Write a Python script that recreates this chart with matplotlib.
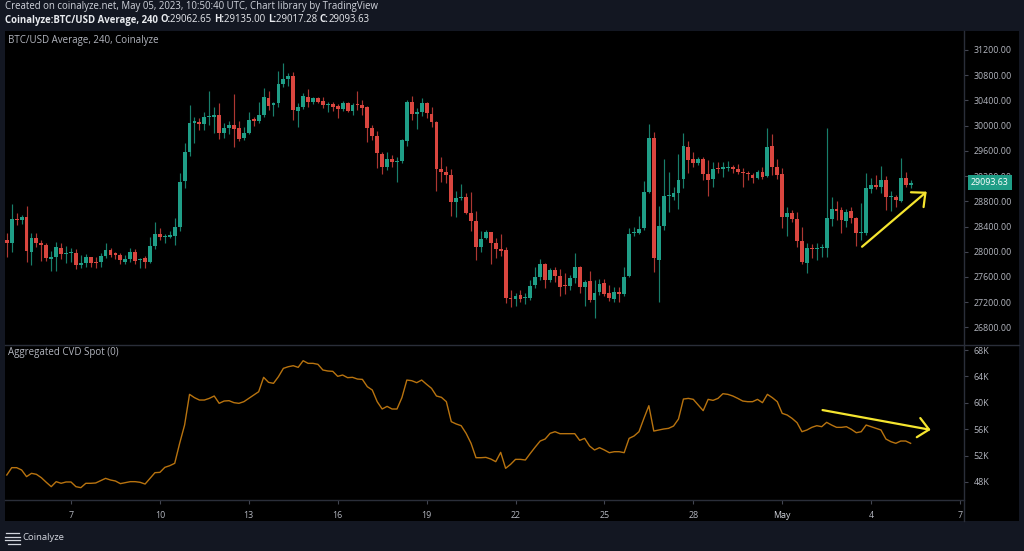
import numpy as np
import pandas as pd
import matplotlib
matplotlib.use("Agg")
import matplotlib.pyplot as plt
import matplotlib.dates as mdates
from matplotlib.lines import Line2D
from matplotlib.patches import Rectangle
from matplotlib.transforms import blended_transform_factory

plt.rcParams['font.family'] = ['Open Sans', 'DejaVu Sans']

# ---- data (4h candles, BTC/USD average) ----
START = "2023-04-04 20:00"

opens = [28186, 28144, 28524, 28503, 28546, 28001, 28223, 28144, 28107, 27885,
         27922, 28054, 27959, 27975, 27975, 27795, 27816, 27911, 27832, 27832,
         27937, 28027, 27975, 27953, 27842, 27879, 27990, 27869, 27895, 27837,
         28091, 28281, 28234, 28239, 28255, 28398, 29122, 29577, 30036, 30052,
         30021, 30132, 30132, 30163, 29888, 29962, 30005, 29962, 29799, 29888,
         30105, 30073, 30169, 30438, 30333, 30364, 30660, 30734, 30782, 30232,
         30296, 30454, 30375, 30433, 30386, 30333, 30348, 30306, 30258, 30354,
         30232, 30338, 30322, 30290, 29968, 29836, 29550, 29349, 29470, 29423,
         29439, 29762, 30375, 30190, 30211, 30354, 30179, 30063, 29307, 29265,
         29217, 28789, 28847, 28863, 28609, 28493, 28080, 28223, 28308, 28133,
         28043, 28027, 27271, 27255, 27314, 27261, 27271, 27472, 27605, 27805,
         27552, 27710, 27620, 27472, 27457, 27578, 27763, 27435, 27536, 27240,
         27361, 27499, 27340, 27250, 27367, 27330, 27620, 28291, 28302, 28371,
         28953, 29809, 27869, 28408, 28884, 28874, 28937, 29148, 29656, 29466,
         29402, 29471, 29233, 29148, 29333, 29307, 29333, 29349, 29317, 29270,
         29249, 29217, 29169, 29270, 29201, 29677, 29349, 29233, 28556, 28619,
         28519, 28170, 27826, 28064, 28038, 28054, 28064, 28519, 28677, 28662,
         28493, 28646, 28530, 28292, 28292, 29001, 29064, 29022, 29138, 28863,
         28863, 28810, 29164, 29062.65]
highs = [28292, 28757, 28609, 28583, 28731, 28302, 28292, 28186, 28133, 28011,
         28160, 28144, 28096, 28064, 28038, 27948, 27959, 27922, 27922, 27985,
         28133, 28064, 28001, 27985, 27948, 28054, 28038, 27895, 27932, 28228,
         28477, 28371, 28281, 28334, 28530, 29243, 29719, 30327, 30132, 30116,
         30222, 30549, 30290, 30354, 30036, 30073, 30502, 30079, 29984, 30211,
         30132, 30370, 30592, 30549, 30380, 30872, 30999, 30830, 30845, 30354,
         30512, 30581, 30459, 30454, 30449, 30370, 30380, 30343, 30391, 30370,
         30364, 30549, 30407, 30311, 30010, 29915, 29587, 29577, 29534, 29497,
         29788, 30407, 30475, 30275, 30433, 30380, 30290, 30073, 29497, 29360,
         29307, 28968, 29074, 28937, 28942, 28651, 28329, 28345, 28318, 28213,
         28281, 28070, 27393, 27351, 27393, 27340, 27552, 27763, 27879, 27816,
         27737, 27752, 27721, 27657, 27631, 27975, 27774, 27552, 27694, 27552,
         27562, 27562, 27472, 27446, 27446, 27763, 28371, 28397, 28567, 29127,
         30026, 29894, 28725, 29466, 29265, 29032, 29550, 29878, 29762, 29577,
         29508, 29508, 29455, 29429, 29429, 29429, 29439, 29376, 29386, 29323,
         29280, 29244, 29296, 29349, 29957, 29862, 29476, 29323, 28704, 28662,
         28635, 28398, 28133, 28123, 28133, 28123, 29957, 28863, 28805, 28715,
         28672, 28715, 28556, 28768, 29244, 29164, 29217, 29360, 29201, 28963,
         28900, 29492, 29259, 29135.00]
lows = [27922, 28001, 28424, 28435, 27842, 27789, 28080, 27853, 27858, 27700,
        27694, 27885, 27816, 27842, 27721, 27737, 27752, 27760, 27737, 27763,
        27906, 27922, 27879, 27800, 27805, 27842, 27800, 27747, 27747, 27826,
        28038, 28186, 28144, 28212, 28107, 28323, 29005, 29518, 29719, 29931,
        29931, 30010, 29888, 29788, 29799, 29867, 29656, 29762, 29772, 29867,
        30000, 30047, 30142, 30248, 30153, 30290, 30618, 30629, 30089, 29973,
        30258, 30290, 30338, 30364, 30285, 30211, 30237, 30116, 30237, 30211,
        30169, 30248, 30169, 29746, 29772, 29323, 29228, 29296, 29349, 29101,
        29402, 29677, 30089, 29947, 30153, 30116, 29984, 28963, 29101, 29095,
        28567, 28556, 28820, 28593, 28334, 27869, 28001, 28197, 27805, 27906,
        27938, 27181, 27129, 27139, 27208, 27171, 27234, 27419, 27552, 27430,
        27525, 27525, 27303, 27330, 27393, 27499, 27340, 27139, 27208, 26944,
        27314, 27303, 27224, 27208, 27208, 27303, 27605, 28250, 28281, 28345,
        28926, 27684, 27208, 28345, 28636, 28821, 28672, 29006, 29254, 29349,
        29376, 29138, 28889, 29022, 29244, 29191, 29280, 29244, 29228, 29022,
        29138, 29095, 29148, 29148, 29191, 29217, 29148, 28371, 28250, 28477,
        28070, 27805, 27657, 27906, 27869, 27922, 27911, 28413, 28503, 28302,
        28397, 28450, 28091, 28186, 28265, 28926, 28995, 28926, 28662, 28651,
        28715, 28794, 29022, 29017.28]
closes = [28144, 28519, 28503, 28551, 28017, 28223, 28144, 28107, 27895, 27922,
          28070, 27964, 27975, 27985, 27789, 27821, 27911, 27821, 27816, 27932,
          28027, 27948, 27953, 27869, 27890, 27990, 27858, 27885, 27837, 28086,
          28281, 28228, 28244, 28265, 28398, 29106, 29582, 30047, 30073, 30026,
          30142, 30142, 30163, 29888, 29957, 30005, 29952, 29788, 29878, 30084,
          30073, 30169, 30449, 30317, 30364, 30660, 30734, 30792, 30248, 30296,
          30470, 30380, 30433, 30380, 30333, 30348, 30301, 30258, 30354, 30232,
          30333, 30322, 30285, 29968, 29836, 29561, 29344, 29465, 29418, 29439,
          29767, 30375, 30179, 30216, 30354, 30195, 30063, 29307, 29259, 29217,
          28794, 28847, 28863, 28609, 28493, 28080, 28202, 28308, 28133, 28043,
          28017, 27261, 27255, 27303, 27255, 27287, 27462, 27605, 27805, 27552,
          27710, 27620, 27446, 27462, 27578, 27763, 27435, 27525, 27235, 27351,
          27488, 27330, 27261, 27367, 27324, 27605, 28281, 28313, 28366, 28947,
          29809, 27906, 28408, 28884, 28900, 28937, 29138, 29677, 29455, 29402,
          29471, 29233, 29138, 29317, 29307, 29349, 29343, 29317, 29270, 29244,
          29228, 29169, 29270, 29191, 29656, 29349, 29217, 28556, 28619, 28514,
          28170, 27832, 28064, 28038, 28054, 28080, 28540, 28672, 28651, 28503,
          28635, 28530, 28302, 28308, 29006, 29058, 29032, 29138, 28863, 28889,
          28820, 29164, 29058, 29093.63]

# Aggregated CVD Spot, thousands
cvd_k = [49.06, 50.17, 50.17, 49.82, 48.81, 49.31, 49.16, 48.65, 47.95, 47.29,
         48.05, 47.80, 48.00, 48.00, 47.29, 47.14, 47.80, 47.80, 47.85, 48.20,
         48.55, 48.30, 48.15, 47.75, 47.90, 48.05, 48.05, 47.95, 47.69, 48.55,
         49.41, 49.46, 50.22, 50.47, 50.83, 53.86, 56.63, 61.28, 60.78, 60.42,
         60.42, 60.67, 61.03, 59.92, 60.27, 60.32, 60.02, 59.92, 60.17, 60.67,
         61.18, 61.68, 63.86, 63.10, 62.95, 63.96, 65.22, 65.47, 65.62, 65.37,
         66.38, 65.98, 65.98, 65.83, 64.97, 64.82, 64.77, 64.01, 64.21, 63.81,
         63.86, 63.60, 63.55, 62.44, 61.94, 60.17, 59.06, 59.46, 59.06, 59.06,
         60.78, 63.45, 63.35, 63.05, 63.45, 62.80, 62.19, 61.03, 60.83, 60.17,
         57.14, 56.79, 56.53, 55.37, 53.86, 51.68, 51.68, 51.73, 51.48, 51.08,
         52.49, 50.07, 50.67, 51.43, 51.43, 51.33, 52.34, 53.30, 54.21, 54.51,
         55.37, 55.62, 55.32, 55.32, 55.32, 55.32, 54.31, 54.61, 53.45, 52.85,
         53.20, 52.85, 52.44, 52.59, 52.59, 52.44, 54.61, 54.97, 55.62, 57.64,
         59.56, 55.72, 55.88, 56.03, 56.13, 56.48, 57.54, 60.57, 60.67, 60.52,
         59.66, 58.81, 60.52, 60.37, 60.67, 61.38, 61.28, 61.03, 60.67, 60.27,
         60.17, 60.17, 60.52, 60.02, 61.28, 60.78, 60.17, 58.40, 58.15, 57.64,
         56.99, 55.62, 55.88, 56.28, 56.53, 56.38, 57.04, 56.63, 56.28, 56.28,
         56.38, 55.98, 55.47, 55.62, 56.63, 56.38, 56.13, 55.88, 54.51, 54.11,
         53.86, 54.21, 54.21, 53.86]

price_ticks = [26800, 27200, 27600, 28000, 28400, 28800, 29200, 29600, 30000,
               30400, 30800, 31200]
cvd_ticks = [48, 52, 56, 60, 64, 68]
date_ticks = ["2023-04-07", "2023-04-10", "2023-04-13", "2023-04-16", "2023-04-19",
              "2023-04-22", "2023-04-25", "2023-04-28", "2023-05-01", "2023-05-04",
              "2023-05-07"]
date_labels = ["7", "10", "13", "16", "19", "22", "25", "28", "May", "4", "7"]

# hand-drawn trend arrows: (start, end) as (time, value)
price_arrow = (("2023-05-03 16:40", 28080), ("2023-05-05 21:00", 28953))
cvd_arrow = (("2023-05-02 08:40", 58.9), ("2023-05-06 00:15", 55.9))

# ---- style ----
BG = "#131722"
PANE = "#000000"
SEP = "#2a2e39"
TXT = "#b2b5be"
UP = "#1f9e87"
DOWN = "#d9463f"
CVD_COL = "#b8730f"
YELLOW = "#f5e52f"
FS = 6.4
FS_HEAD = 6.9
FS_PANE = 7.0

W, H = 1024, 551
fig = plt.figure(figsize=(W / 100, H / 100), dpi=100, facecolor=BG)


def px_axes(x0, y0, x1, y1):
    return fig.add_axes([x0 / W, 1 - y1 / H, (x1 - x0) / W, (y1 - y0) / H])


def ftext(x, y, s, **kw):
    return fig.text(x / W, 1 - y / H, s, **kw)


def fline(xs, ys, **kw):
    fig.add_artist(Line2D([x / W for x in xs], [1 - y / H for y in ys],
                          transform=fig.transFigure, **kw))


# black chart area, behind the panes
fig.patches.append(Rectangle((5 / W, 1 - 521 / H), 1014 / W, 490 / H,
                             transform=fig.transFigure, facecolor=PANE,
                             edgecolor="none", zorder=-5))

ax1 = px_axes(5, 31, 964, 344)
ax2 = px_axes(5, 345, 964, 500)

times = pd.date_range(START, periods=len(opens), freq="4h")
x = mdates.date2num(times)
o = np.array(opens, dtype=float)
h = np.array(highs, dtype=float)
l = np.array(lows, dtype=float)
c = np.array(closes, dtype=float)
up = c >= o
cols = np.where(up, UP, DOWN)

step = 1 / 6
ax1.vlines(x, l, h, colors=cols, linewidth=0.85, alpha=0.8)
ax1.bar(x, np.maximum(np.abs(c - o), 14), width=step * 0.78,
        bottom=np.minimum(o, c), color=cols, linewidth=0)

ax2.plot(x, cvd_k, color=CVD_COL, lw=1.0)

xlim = (mdates.date2num(pd.Timestamp("2023-04-04 18:33")),
        mdates.date2num(pd.Timestamp("2023-05-07 03:14")))
for ax in (ax1, ax2):
    ax.set_facecolor(PANE)
    ax.set_xlim(*xlim)
    for s in ax.spines.values():
        s.set_visible(False)
    ax.yaxis.tick_right()
    ax.tick_params(axis="y", colors="#434651", labelcolor=TXT, labelsize=FS,
                   length=3, pad=4)

ax1.set_ylim(26537, 31501)
ax1.set_yticks(price_ticks)
ax1.set_yticklabels([f"{p:.2f}" for p in price_ticks])
ax1.set_xticks([])

ax2.set_ylim(45.27, 68.76)
ax2.set_yticks(cvd_ticks)
ax2.set_yticklabels([f"{v}K" for v in cvd_ticks])
ax2.set_xticks(mdates.date2num(pd.to_datetime(date_ticks)))
ax2.set_xticklabels(date_labels)
ax2.tick_params(axis="x", colors="#434651", labelcolor=TXT, labelsize=FS,
                length=3, pad=5)
for lbl in ax2.get_xticklabels():
    if lbl.get_text() == "May":
        lbl.set_color("#d1d4dc")

# last price tag
tr = blended_transform_factory(ax1.transAxes, ax1.transData)
ax1.text(1 + 7 / 959, closes[-1], f"{closes[-1]:.2f}", transform=tr,
         ha="left", va="center", color="white", fontsize=FS, clip_on=False,
         zorder=6, bbox=dict(boxstyle="square,pad=0.35", fc=UP, ec="none"))

# trend arrows
for ax, (p0, p1) in ((ax1, price_arrow), (ax2, cvd_arrow)):
    ax.annotate("", xy=(mdates.date2num(pd.Timestamp(p1[0])), p1[1]),
                xytext=(mdates.date2num(pd.Timestamp(p0[0])), p0[1]),
                arrowprops=dict(arrowstyle="->,head_length=0.55,head_width=0.5",
                                color=YELLOW, lw=1.6, mutation_scale=14,
                                shrinkA=0, shrinkB=0),
                annotation_clip=False)

# separators
fline([5, 1019], [344.5, 344.5], color=SEP, lw=1)
fline([5, 964], [500, 500], color=SEP, lw=1)
fline([964, 964], [31, 521], color=SEP, lw=1)

# pane titles
ftext(8, 40, "BTC/USD Average, 240, Coinalyze", color=TXT, fontsize=FS_PANE,
      va="center")
ftext(8, 353, "Aggregated CVD Spot (0)", color=TXT, fontsize=FS_PANE,
      va="center")

# header
ftext(5, 7, "Created on coinalyze.net, May 05, 2023, 10:50:40 UTC, "
      "Chart library by TradingView", color="#d1d4dc", fontsize=FS_HEAD,
      va="center")
pieces = [("Coinalyze:BTC/USD Average, 240 ", "bold"), ("O:", "bold"),
          (f"{opens[-1]:.2f} ", "normal"), ("H:", "bold"),
          (f"{highs[-1]:.2f} ", "normal"), ("L:", "bold"),
          (f"{lows[-1]:.2f} ", "normal"), ("C:", "bold"),
          (f"{closes[-1]:.2f}", "normal")]
prev = ftext(5, 20, pieces[0][0], color="#e8eaee", fontsize=FS_HEAD,
             fontweight="bold", va="center")
for s, wgt in pieces[1:]:
    prev = ax1.annotate(s, xy=(1, 0.5), xycoords=prev, va="center", ha="left",
                        color="#e8eaee", fontsize=FS_HEAD, fontweight=wgt,
                        annotation_clip=False)

# footer logo
for yy, xa, xb in ((533, 6, 19), (536.5, 5, 20), (540, 5, 20), (543.5, 8, 20)):
    fline([xa, xb], [yy, yy], color="#d1d4dc", lw=0.9)
ftext(22, 538, "Coinalyze", color="#d1d4dc", fontsize=6.8, va="center")

fig.savefig("out.png", dpi=100, facecolor=BG)
